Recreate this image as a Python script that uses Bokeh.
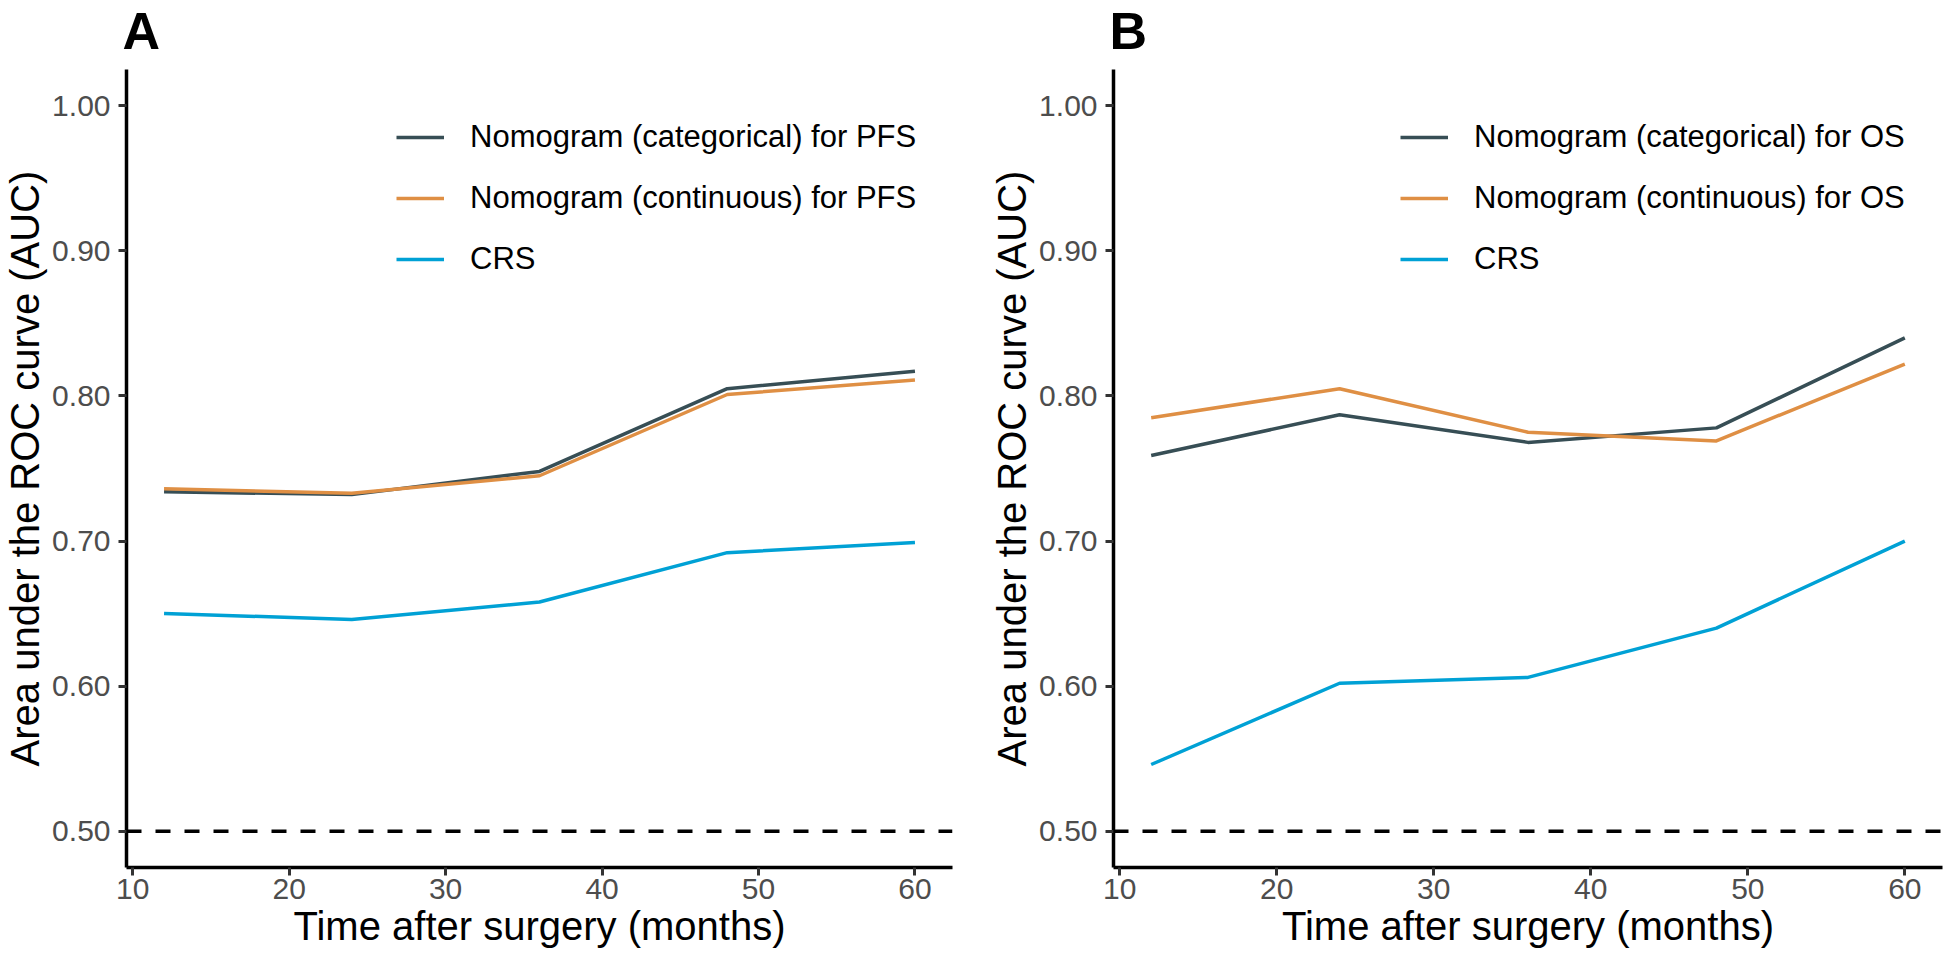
from bokeh.plotting import figure
from bokeh.models import Range1d, FixedTicker, PrintfTickFormatter, Span, Legend, LegendItem, Label
from bokeh.layouts import row
from bokeh.embed import file_html
from bokeh.resources import INLINE

# ---- data ----
months = [12, 24, 36, 48, 60]

pfs_categorical = [0.734, 0.732, 0.748, 0.805, 0.817]
pfs_continuous = [0.736, 0.733, 0.745, 0.801, 0.811]
pfs_crs = [0.650, 0.646, 0.658, 0.692, 0.699]

os_categorical = [0.759, 0.787, 0.768, 0.778, 0.840]
os_continuous = [0.785, 0.805, 0.775, 0.769, 0.822]
os_crs = [0.546, 0.602, 0.606, 0.640, 0.700]

labels_pfs = ["Nomogram (categorical) for PFS", "Nomogram (continuous) for PFS", "CRS"]
labels_os = ["Nomogram (categorical) for OS", "Nomogram (continuous) for OS", "CRS"]

x_ticks = [10, 20, 30, 40, 50, 60]
y_ticks = [0.5, 0.6, 0.7, 0.8, 0.9, 1.0]

colors = ["#374E55", "#DF8F44", "#00A1D5"]
FONT = "Liberation Sans"

X_LO, X_HI = 9.6, 62.4
Y_LO, Y_HI = 0.475, 1.025


def make_panel(tag, series, names, width, border_left, border_right, legend_x):
    p = figure(width=width, height=960,
               x_range=Range1d(X_LO, X_HI), y_range=Range1d(Y_LO, Y_HI),
               output_backend="svg", toolbar_location=None,
               min_border_left=border_left, min_border_right=border_right,
               min_border_top=69, min_border_bottom=93)
    p.outline_line_color = None
    p.xgrid.visible = False
    p.ygrid.visible = False
    p.background_fill_color = "white"

    # panel tag ("A" / "B") in the panel above the frame
    p.add_layout(Label(x=-4, y=39, x_units="screen", y_units="screen", text=tag,
                       text_font=FONT, text_font_size="52px", text_font_style="bold",
                       text_color="black", text_baseline="alphabetic",
                       text_align="left"), "above")

    p.add_layout(Span(location=0.5, dimension="width", line_color="black",
                      line_width=3.5, line_dash="15 14"))

    items = []
    for vals, col, name in zip(series, colors, names):
        r = p.line(months, vals, line_color=col, line_width=3.5, line_join="round")
        items.append(LegendItem(label=name, renderers=[r]))

    for ax in (p.xaxis[0], p.yaxis[0]):
        ax.axis_line_color = "black"
        ax.axis_line_width = 3.5
        ax.major_tick_line_color = "#333333"
        ax.major_tick_line_width = 3
        ax.major_tick_out = 8
        ax.major_tick_in = 0
        ax.minor_tick_line_color = None
        ax.major_label_text_font = FONT
        ax.major_label_text_font_size = "30px"
        ax.major_label_text_color = "#4D4D4D"
        ax.axis_label_text_font = FONT
        ax.axis_label_text_font_size = "40px"
        ax.axis_label_text_font_style = "normal"
        ax.axis_label_text_color = "black"

    p.xaxis[0].ticker = FixedTicker(ticks=x_ticks)
    p.yaxis[0].ticker = FixedTicker(ticks=y_ticks)
    p.yaxis[0].formatter = PrintfTickFormatter(format="%.2f")
    p.xaxis[0].axis_label = "Time after surgery (months)"
    p.yaxis[0].axis_label = "Area under the ROC curve (AUC)"
    p.xaxis[0].major_label_standoff = 3
    p.xaxis[0].axis_label_standoff = 2
    p.yaxis[0].major_label_standoff = 8
    p.yaxis[0].axis_label_standoff = 2

    leg = Legend(items=items, location=(legend_x, 590))
    leg.background_fill_alpha = 0
    leg.border_line_color = None
    leg.margin = 0
    leg.padding = 0
    leg.spacing = 25
    leg.glyph_width = 48
    leg.glyph_height = 36
    leg.label_height = 36
    leg.label_standoff = 26
    leg.label_text_font = FONT
    leg.label_text_font_size = "31px"
    leg.label_text_color = "black"
    p.add_layout(leg)
    return p


pA = make_panel("A", [pfs_categorical, pfs_continuous, pfs_crs], labels_pfs,
                width=960, border_left=124, border_right=8, legend_x=270)
pB = make_panel("B", [os_categorical, os_continuous, os_crs], labels_os,
                width=983, border_left=153, border_right=1, legend_x=287)

layout = row(pA, pB)

open("out.html", "w").write(file_html(layout, INLINE))
